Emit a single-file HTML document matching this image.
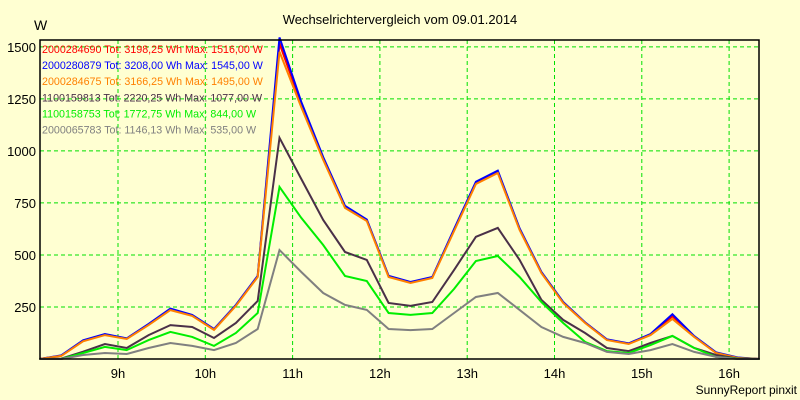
<!DOCTYPE html>
<html><head><meta charset="utf-8">
<style>
body{margin:0;background:#ffffd2;}
svg{display:block;font-family:"Liberation Sans",Arial,sans-serif;}
</style></head>
<body>
<svg id="chart" width="800" height="400" viewBox="0 0 800 400" xmlns="http://www.w3.org/2000/svg">
<rect x="0" y="0" width="800" height="400" fill="#ffffd2"/>
<text x="400" y="24" font-size="13" text-anchor="middle" fill="#000">Wechselrichtervergleich vom 09.01.2014</text>
<text x="34" y="30" font-size="14" fill="#000">W</text>
<text x="797" y="394" font-size="12" text-anchor="end" fill="#000">SunnyReport pinxit</text>
<g id="grid"></g>
<g id="legend"></g>
<g id="series"></g>
<g id="axes"></g>
</svg>
<script>
const categories = ["08:06","08:21","08:36","08:51","09:06","09:21","09:36","09:51","10:06","10:21","10:36","10:51","11:06","11:21","11:36","11:51","12:06","12:21","12:36","12:51","13:06","13:21","13:36","13:51","14:06","14:21","14:36","14:51","15:06","15:21","15:36","15:51","16:06","16:21"];
const seriesNames = ["2000284690","2000280879","2000284675","1100159813","1100158753","2000065783"];
const seriesTotals = ["3198,25","3208,00","3166,25","2220,25","1772,75","1146,13"];
const seriesMax = ["1516,00","1545,00","1495,00","1077,00","844,00","535,00"];
const red    = [0,16,88,118,98,166,240,210,142,258,398,1516,1225,965,732,668,398,368,392,620,848,900,624,416,272,175,93,74,118,205,108,30,6,0];
const blue   = [0,18,90,120,99,168,242,212,144,260,400,1545,1235,970,736,670,400,370,394,624,852,905,628,418,274,176,94,75,120,215,110,32,7,0];
const orange = [0,15,85,115,96,163,235,207,140,255,394,1476,1210,957,726,663,394,365,389,615,841,894,620,413,269,173,91,72,115,192,106,29,5,0];
const dark   = [0,2,35,72,53,115,163,154,101,173,279,1063,865,668,514,476,269,255,274,428,587,630,476,284,188,125,53,38,77,111,53,19,2,0];
const green  = [0,0,29,58,43,91,130,106,63,125,221,827,678,548,399,375,221,212,221,337,471,495,394,274,173,82,38,29,67,111,53,10,1,0];
const gray   = [0,0,19,29,24,53,77,63,43,77,144,524,418,317,260,236,144,139,144,221,298,317,236,154,106,77,34,24,43,72,34,10,0,0];
const yTicks = [250,500,750,1000,1250,1500];
const xTickLabels = ["9h","10h","11h","12h","13h","14h","15h","16h"];
const xTickHours = [9,10,11,12,13,14,15,16];

const NS="http://www.w3.org/2000/svg";
const PL=40, PR=759, PT=40, PB=359;
function hourOf(c){const p=c.split(":");return +p[0]+ +p[1]/60;}
function xScale(h){return 118+(h-9)*87.3;}
function yScale(v){return PB - v*0.2081;}
function mk(tag,attrs,parent){const e=document.createElementNS(NS,tag);for(const k in attrs)e.setAttribute(k,attrs[k]);parent.appendChild(e);return e;}

const grid=document.getElementById('grid');
yTicks.forEach(function(v){
  const l=mk('line',{x1:PL,x2:PR,y1:yScale(v),y2:yScale(v),stroke:'#00e000','stroke-dasharray':'4,3','stroke-width':1},grid);
  
  
  const t=mk('text',{x:36,y:yScale(v)+5,'font-size':13,'text-anchor':'end',fill:'#000'},grid);
  t.textContent=v;
  
  
});
xTickHours.forEach(function(h,i){
  const x=xScale(h);
  const l=mk('line',{x1:x,x2:x,y1:PT,y2:PB,stroke:'#00e000','stroke-dasharray':'4,3','stroke-width':1},grid);
  
  
  const t=mk('text',{x:x,y:378,'font-size':13,'text-anchor':'middle',fill:'#000'},grid);
  t.textContent=xTickLabels[i];
  
  
});

const seriesList=[[red,'#ff0000'],[blue,'#0000ff'],[orange,'#ff8000'],[dark,'#4a3048'],[green,'#00ee00'],[gray,'#808080']];

const lg=document.getElementById('legend');
seriesList.forEach(function(s,si){
  const t=mk('text',{x:42,y:53+si*16.1,'font-size':10.7,fill:s[1]},lg);
  t.textContent=seriesNames[si]+' Tot: '+seriesTotals[si]+' Wh Max: '+seriesMax[si]+' W';
  
  
});

const sg=document.getElementById('series');
seriesList.forEach(function(s,si){
  const pts=s[0].map(function(v,i){return xScale(hourOf(categories[i])).toFixed(1)+','+yScale(v).toFixed(1);}).join(' ');
  const p=mk('polyline',{points:pts,fill:'none',stroke:s[1],'stroke-width':2,'stroke-linejoin':'miter'},sg);
  
  
});

const ax=document.getElementById('axes');
const frame=mk('path',{d:'M'+PL+' '+PT+' L'+PR+' '+PT+' L'+PR+' '+PB+' L'+PL+' '+PB+' Z',fill:'none',stroke:'#000','stroke-width':1.5},ax);


</script>
</body></html>
